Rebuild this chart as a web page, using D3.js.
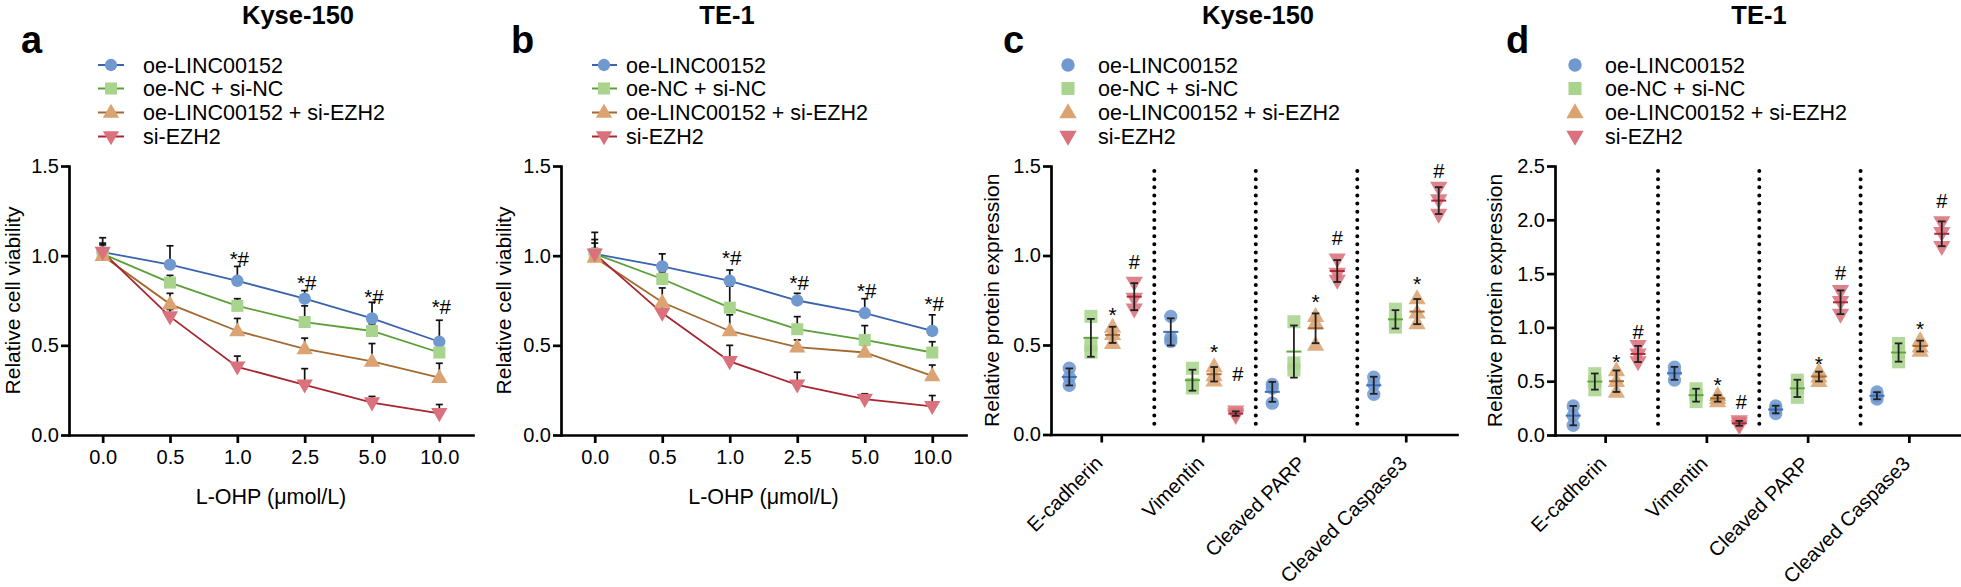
<!DOCTYPE html>
<html><head><meta charset="utf-8">
<script src="https://cdn.jsdelivr.net/npm/d3@7"></script>
<style>
body{margin:0;background:#fff}
svg{display:block}
text{font-family:"Liberation Sans",Arial,Helvetica,sans-serif;fill:#000}
</style>
</head><body>
<svg id="chart" width="1961" height="587"></svg>
<script>
// ---------------- DATA ----------------
const doses = ["0.0", "0.5", "1.0", "2.5", "5.0", "10.0"];
const groups = ["oe-LINC00152", "oe-NC + si-NC", "oe-LINC00152 + si-EZH2", "si-EZH2"];
const proteins = ["E-cadherin", "Vimentin", "Cleaved PARP", "Cleaved Caspase3"];
const viabTicks = [0, 0.5, 1.0, 1.5];
const kyseProtTicks = [0, 0.5, 1.0, 1.5];
const te1ProtTicks = [0, 0.5, 1.0, 1.5, 2.0, 2.5];

// (a) Kyse-150 relative cell viability: means and SD (upward bars)
const kyseViabOe    = [1.02, 0.95, 0.86, 0.76, 0.65, 0.52];
const kyseViabNC    = [1.01, 0.85, 0.72, 0.63, 0.58, 0.46];
const kyseViabOeSi  = [1.00, 0.73, 0.58, 0.48, 0.41, 0.32];
const kyseViabSi    = [1.02, 0.66, 0.38, 0.28, 0.18, 0.12];
const kyseViabOeSD   = [0.08, 0.105, 0.08, 0.045, 0.09, 0.12];
const kyseViabNCSD   = [0.05, 0.04, 0.04, 0.09, 0.04, 0.05];
const kyseViabOeSiSD = [0.04, 0.06, 0.07, 0.06, 0.10, 0.08];
const kyseViabSiSD   = [0.05, 0.04, 0.06, 0.09, 0.035, 0.05];
const kyseViabMarks  = ["", "", "*#", "*#", "*#", "*#"];
const kyseViabMarkAt = [null, null, 0.98, 0.848, 0.77, 0.714];

// (b) TE-1 relative cell viability
const te1ViabOe    = [1.01, 0.94, 0.86, 0.75, 0.68, 0.58];
const te1ViabNC    = [1.01, 0.87, 0.71, 0.59, 0.53, 0.46];
const te1ViabOeSi  = [0.99, 0.74, 0.58, 0.49, 0.46, 0.33];
const te1ViabSi    = [1.01, 0.68, 0.41, 0.28, 0.20, 0.16];
const te1ViabOeSD   = [0.12, 0.07, 0.06, 0.04, 0.08, 0.09];
const te1ViabNCSD   = [0.08, 0.04, 0.12, 0.07, 0.08, 0.06];
const te1ViabOeSiSD = [0.05, 0.08, 0.09, 0.04, 0.04, 0.06];
const te1ViabSiSD   = [0.06, 0.04, 0.09, 0.07, 0.03, 0.06];
const te1ViabMarks  = ["", "", "*#", "*#", "*#", "*#"];
const te1ViabMarkAt = [null, null, 0.985, 0.846, 0.805, 0.73];

// (c) Kyse-150 relative protein expression, three replicates per protein
const kyseProtOe   = [[0.37, 0.32, 0.275], [0.66, 0.54, 0.52], [0.28, 0.26, 0.175], [0.32, 0.28, 0.225]];
const kyseProtNC   = [[0.66, 0.50, 0.46], [0.37, 0.28, 0.26], [0.63, 0.40, 0.36], [0.70, 0.63, 0.60]];
const kyseProtOeSi = [[0.60, 0.56, 0.51], [0.38, 0.33, 0.30], [0.66, 0.62, 0.50], [0.76, 0.68, 0.62]];
const kyseProtSi   = [[0.85, 0.76, 0.70], [0.13, 0.115, 0.105], [0.98, 0.90, 0.86], [1.38, 1.31, 1.23]];
const kyseProtOeSiMarkAt = [0.684, 0.48, 0.759, 0.855];   // "*"
const kyseProtSiMarkAt   = [0.963, 0.336, 1.10, 1.471];   // "#"

// (d) TE-1 relative protein expression
const te1ProtOe   = [[0.27, 0.18, 0.09], [0.63, 0.58, 0.51], [0.27, 0.24, 0.20], [0.40, 0.36, 0.335]];
const te1ProtNC   = [[0.57, 0.50, 0.42], [0.43, 0.37, 0.31], [0.51, 0.44, 0.35], [0.85, 0.77, 0.68]];
const te1ProtOeSi = [[0.60, 0.50, 0.40], [0.37, 0.34, 0.31], [0.59, 0.54, 0.50], [0.88, 0.82, 0.78]];
const te1ProtSi   = [[0.83, 0.75, 0.68], [0.13, 0.11, 0.085], [1.34, 1.24, 1.12], [1.98, 1.88, 1.75]];
const te1ProtOeSiMarkAt = [0.703, 0.489, 0.69, 1.015];
const te1ProtSiMarkAt   = [0.959, 0.309, 1.501, 2.176];

// ---------------- STYLE ----------------
const fillColors = ["#7099D0", "#A9D48D", "#DBA371", "#D9727C"];
const lineColors = ["#3A64AE", "#5A9F37", "#A3692F", "#A8262F"];
const meanColors = ["#3F6FB6", "#5FA33E", "#A56A35", "#B02A38"];
const shapes = [d3.symbolCircle, d3.symbolSquare, d3.symbolTriangle, d3.symbolTriangle];
const rotations = [0, 0, 0, 180];
const symSizeLine = [120, 145, 115, 115];
const symSizeDot = [140, 170, 130, 130];

const svg = d3.select("#chart");

function symbolPath(i, sizes) { return d3.symbol().type(shapes[i]).size(sizes[i])(); }
function symTransform(i, x, y, sizes) {
  const r = rotations[i];
  let dy = 0;
  if (i >= 2) { const s = Math.sqrt(sizes[i] / (Math.sqrt(3) / 4)); dy = (r ? -1 : 1) * s * 0.04; }
  return `translate(${x},${y + dy}) rotate(${r})`;
}

function styleAxis(g, fontSize) {
  g.select(".domain").attr("stroke", "#000").attr("stroke-width", 2.7).attr("stroke-linecap", "square");
  g.selectAll(".tick line").attr("stroke", "#000").attr("stroke-width", 2.7);
  g.selectAll(".tick text").attr("font-size", fontSize).attr("fill", "#000")
    .style("font-family", '"Liberation Sans", Arial, sans-serif');
}

function header(cfg) {
  svg.append("text").attr("x", cfg.titleX).attr("y", 24).attr("text-anchor", "middle")
    .attr("font-size", 25.5).attr("font-weight", "bold").text(cfg.title);
  svg.append("text").attr("x", cfg.letterX).attr("y", 53)
    .attr("font-size", 38).attr("font-weight", "bold").text(cfg.letter);
}

function legend(cfg, withLine) {
  const rows = [65, 88.5, 112.5, 136.5];
  groups.forEach((name, i) => {
    const g = svg.append("g");
    if (withLine) {
      g.append("line").attr("x1", cfg.legX0).attr("x2", cfg.legX1)
        .attr("y1", rows[i]).attr("y2", rows[i])
        .attr("stroke", lineColors[i]).attr("stroke-width", 2);
    }
    g.append("path").attr("d", symbolPath(i, withLine ? symSizeLine : symSizeDot))
      .attr("transform", symTransform(i, cfg.legMarkX, rows[i], withLine ? symSizeLine : symSizeDot))
      .attr("fill", fillColors[i]);
    g.append("text").attr("x", cfg.legTextX).attr("y", rows[i] + 7.8)
      .attr("font-size", 21.5).text(name);
  });
}

function viabilityPanel(cfg) {
  header(cfg);
  legend(cfg, true);
  const x = d3.scalePoint().domain(doses).range([cfg.left, cfg.right]).padding(0.5);
  const y = d3.scaleLinear().domain([0, 1.5]).range([cfg.bottom, cfg.top]);

  const xa = svg.append("g").attr("transform", `translate(0,${cfg.bottom})`)
    .call(d3.axisBottom(x).tickSize(8).tickSizeOuter(0).tickPadding(7));
  styleAxis(xa, 20);
  const ya = svg.append("g").attr("transform", `translate(${cfg.left},0)`)
    .call(d3.axisLeft(y).tickValues(viabTicks).tickFormat(d3.format(".1f")).tickSize(8).tickSizeOuter(0).tickPadding(2));
  styleAxis(ya, 20);

  svg.append("text").attr("x", (cfg.left + cfg.right) / 2).attr("y", cfg.bottom + 69)
    .attr("text-anchor", "middle").attr("font-size", 21.5).text("L-OHP (\u03bcmol/L)");
  svg.append("text").attr("transform", `translate(${cfg.yLabelX},${(cfg.top + cfg.bottom) / 2}) rotate(-90)`)
    .attr("text-anchor", "middle").attr("font-size", 21).text("Relative cell viability");

  const line = d3.line().x((d, i) => x(doses[i])).y(d => y(d));
  cfg.means.forEach((m, s) => {
    svg.append("path").attr("d", line(m)).attr("fill", "none")
      .attr("stroke", lineColors[s]).attr("stroke-width", 1.8);
  });
  cfg.means.forEach((m, s) => {
    const eb = svg.append("g").attr("stroke", "#111").attr("stroke-width", 1.7);
    m.forEach((v, i) => {
      const cx = x(doses[i]), top = y(v + cfg.sds[s][i]);
      eb.append("line").attr("x1", cx).attr("x2", cx).attr("y1", y(v)).attr("y2", top);
      eb.append("line").attr("x1", cx - 3.5).attr("x2", cx + 3.5).attr("y1", top).attr("y2", top);
    });
  });
  cfg.means.forEach((m, s) => {
    m.forEach((v, i) => {
      svg.append("path").attr("d", symbolPath(s, symSizeLine))
        .attr("transform", symTransform(s, x(doses[i]), y(v), symSizeLine))
        .attr("fill", fillColors[s]);
    });
  });
  cfg.marks.forEach((t, i) => {
    if (!t) return;
    svg.append("text").attr("x", x(doses[i]) + 2).attr("y", y(cfg.markAt[i]) + 7)
      .attr("text-anchor", "middle").attr("font-size", 20.5).text(t);
  });
}

function proteinPanel(cfg) {
  header(cfg);
  legend(cfg, false);
  const x = d3.scaleBand().domain(proteins).range([cfg.left, cfg.right]).padding(0);
  const bw = x.bandwidth();
  const sub = d3.scalePoint().domain(groups).range([bw * 0.18, bw * 0.82]);
  const y = d3.scaleLinear().domain([0, cfg.ymax]).range([cfg.bottom, cfg.top]);

  proteins.slice(1).forEach(p => {
    const xx = x(p) + 1.8;
    svg.append("line").attr("x1", xx).attr("x2", xx)
      .attr("y1", cfg.top + 5).attr("y2", cfg.bottom - 6)
      .attr("stroke", "#000").attr("stroke-width", 4)
      .attr("stroke-linecap", "round").attr("stroke-dasharray", "0 8.15");
  });

  const xa = svg.append("g").attr("transform", `translate(0,${cfg.bottom})`)
    .call(d3.axisBottom(x).tickSize(8).tickSizeOuter(0));
  styleAxis(xa, 20);
  xa.selectAll(".tick text").attr("text-anchor", "end").attr("x", 0).attr("y", 0).attr("dy", 0)
    .attr("transform", "translate(2,30) rotate(-45)");
  const ya = svg.append("g").attr("transform", `translate(${cfg.left},0)`)
    .call(d3.axisLeft(y).tickValues(cfg.ticks).tickFormat(d3.format(".1f")).tickSize(8).tickSizeOuter(0).tickPadding(2));
  styleAxis(ya, 20);

  svg.append("text").attr("transform", `translate(${cfg.yLabelX},${(cfg.top + cfg.bottom) / 2}) rotate(-90)`)
    .attr("text-anchor", "middle").attr("font-size", 21).text("Relative protein expression");

  cfg.data.forEach((series, s) => {
    series.forEach((reps, p) => {
      const cx = x(proteins[p]) + sub(groups[s]);
      reps.forEach(v => {
        svg.append("path").attr("d", symbolPath(s, symSizeDot))
          .attr("transform", symTransform(s, cx, y(v), symSizeDot))
          .attr("fill", fillColors[s]).attr("fill-opacity", 0.88);
      });
      const m = d3.mean(reps), sd = d3.deviation(reps);
      svg.append("line").attr("x1", cx - 7.5).attr("x2", cx + 7.5).attr("y1", y(m)).attr("y2", y(m))
        .attr("stroke", meanColors[s]).attr("stroke-width", 2);
      const eb = svg.append("g").attr("stroke", "#222").attr("stroke-width", 1.8);
      eb.append("line").attr("x1", cx).attr("x2", cx).attr("y1", y(m - sd)).attr("y2", y(m + sd));
      [m - sd, m + sd].forEach(v => eb.append("line").attr("x1", cx - 3.8).attr("x2", cx + 3.8)
        .attr("y1", y(v)).attr("y2", y(v)));
    });
  });

  cfg.orangeMarkAt.forEach((v, p) => {
    svg.append("text").attr("x", x(proteins[p]) + sub(groups[2])).attr("y", y(v) + 10)
      .attr("text-anchor", "middle").attr("font-size", 21).text("*");
  });
  cfg.redMarkAt.forEach((v, p) => {
    svg.append("text").attr("x", x(proteins[p]) + sub(groups[3]) + (p === 1 ? 2 : 0)).attr("y", y(v) + 7)
      .attr("text-anchor", "middle").attr("font-size", 20).text("#");
  });
}

viabilityPanel({
  left: 69, right: 473, top: 166, bottom: 435, title: "Kyse-150", titleX: 298, letter: "a", letterX: 21,
  legX0: 98, legX1: 124, legMarkX: 111, legTextX: 143, yLabelX: 20,
  means: [kyseViabOe, kyseViabNC, kyseViabOeSi, kyseViabSi],
  sds: [kyseViabOeSD, kyseViabNCSD, kyseViabOeSiSD, kyseViabSiSD],
  marks: kyseViabMarks, markAt: kyseViabMarkAt
});
viabilityPanel({
  left: 561, right: 966, top: 166, bottom: 435, title: "TE-1", titleX: 727, letter: "b", letterX: 511,
  legX0: 592, legX1: 617, legMarkX: 604, legTextX: 626, yLabelX: 511,
  means: [te1ViabOe, te1ViabNC, te1ViabOeSi, te1ViabSi],
  sds: [te1ViabOeSD, te1ViabNCSD, te1ViabOeSiSD, te1ViabSiSD],
  marks: te1ViabMarks, markAt: te1ViabMarkAt
});
proteinPanel({
  left: 1051, right: 1457, top: 166, bottom: 434.5, ymax: 1.5, ticks: kyseProtTicks,
  title: "Kyse-150", titleX: 1258, letter: "c", letterX: 1003,
  legMarkX: 1068, legTextX: 1098, yLabelX: 999,
  data: [kyseProtOe, kyseProtNC, kyseProtOeSi, kyseProtSi],
  orangeMarkAt: kyseProtOeSiMarkAt, redMarkAt: kyseProtSiMarkAt
});
proteinPanel({
  left: 1555, right: 1960, top: 166, bottom: 435, ymax: 2.5, ticks: te1ProtTicks,
  title: "TE-1", titleX: 1759, letter: "d", letterX: 1506,
  legMarkX: 1575, legTextX: 1605, yLabelX: 1502,
  data: [te1ProtOe, te1ProtNC, te1ProtOeSi, te1ProtSi],
  orangeMarkAt: te1ProtOeSiMarkAt, redMarkAt: te1ProtSiMarkAt
});
</script>
</body></html>
